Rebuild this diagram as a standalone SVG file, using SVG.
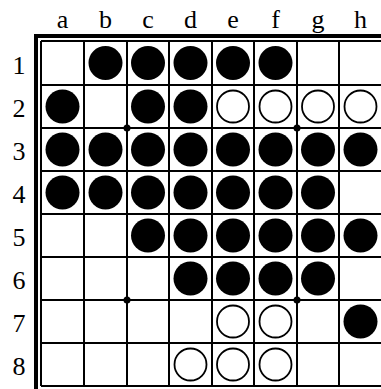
<svg xmlns="http://www.w3.org/2000/svg" width="381" height="389" viewBox="0 0 381 389">
<style>
.lbl{font-family:"Liberation Serif","Times New Roman",serif;font-size:26px;fill:#000;text-anchor:middle}
.g{stroke:#000;stroke-width:2;fill:none}
.b{fill:#000}
.w{fill:#fff;stroke:#000;stroke-width:1.8}
</style>
<rect width="381" height="389" fill="#fff"/>
<g id="col-labels">
<text class="lbl" x="62.5" y="28">a</text>
<text class="lbl" x="105.5" y="28">b</text>
<text class="lbl" x="148" y="28">c</text>
<text class="lbl" x="190.5" y="28">d</text>
<text class="lbl" x="233" y="28">e</text>
<text class="lbl" x="275.5" y="28">f</text>
<text class="lbl" x="318" y="28">g</text>
<text class="lbl" x="360.5" y="28">h</text>
</g>
<g id="row-labels">
<text class="lbl" x="19" y="74">1</text>
<text class="lbl" x="19" y="117">2</text>
<text class="lbl" x="19" y="160">3</text>
<text class="lbl" x="19" y="203">4</text>
<text class="lbl" x="19" y="246">5</text>
<text class="lbl" x="19" y="289">6</text>
<text class="lbl" x="19" y="332">7</text>
<text class="lbl" x="19" y="375">8</text>
</g>
<g id="frame">
<rect x="34" y="34" width="350" height="4" class="b"/>
<rect x="34" y="34" width="4" height="360" class="b"/>
</g>
<g id="grid" class="g">
<path d="M41 41V386M84 41V386M127 41V386M169 41V386M212 41V386M254 41V386M297 41V386M339 41V386M382 41V386"/>
<path d="M41 41H382M41 85H382M41 128H382M41 171H382M41 214H382M41 257H382M41 300H382M41 343H382M41 386H382"/>
</g>
<g id="stars" class="b">
<circle cx="127" cy="128" r="3.5"/>
<circle cx="297" cy="128" r="3.5"/>
<circle cx="127" cy="300" r="3.5"/>
<circle cx="297" cy="300" r="3.5"/>
</g>
<g id="black-discs" class="b">
<circle cx="105.5" cy="63" r="17"/><circle cx="148" cy="63" r="17"/><circle cx="190.5" cy="63" r="17"/><circle cx="233" cy="63" r="17"/><circle cx="275.5" cy="63" r="17"/>
<circle cx="62.5" cy="106.5" r="17"/><circle cx="148" cy="106.5" r="17"/><circle cx="190.5" cy="106.5" r="17"/>
<circle cx="62.5" cy="149.5" r="17"/><circle cx="105.5" cy="149.5" r="17"/><circle cx="148" cy="149.5" r="17"/><circle cx="190.5" cy="149.5" r="17"/><circle cx="233" cy="149.5" r="17"/><circle cx="275.5" cy="149.5" r="17"/><circle cx="318" cy="149.5" r="17"/><circle cx="360.5" cy="149.5" r="17"/>
<circle cx="62.5" cy="192.5" r="17"/><circle cx="105.5" cy="192.5" r="17"/><circle cx="148" cy="192.5" r="17"/><circle cx="190.5" cy="192.5" r="17"/><circle cx="233" cy="192.5" r="17"/><circle cx="275.5" cy="192.5" r="17"/><circle cx="318" cy="192.5" r="17"/>
<circle cx="148" cy="235.5" r="17"/><circle cx="190.5" cy="235.5" r="17"/><circle cx="233" cy="235.5" r="17"/><circle cx="275.5" cy="235.5" r="17"/><circle cx="318" cy="235.5" r="17"/><circle cx="360.5" cy="235.5" r="17"/>
<circle cx="190.5" cy="278.5" r="17"/><circle cx="233" cy="278.5" r="17"/><circle cx="275.5" cy="278.5" r="17"/><circle cx="318" cy="278.5" r="17"/>
<circle cx="360.5" cy="321.5" r="17"/>
</g>
<g id="white-discs" class="w">
<circle cx="233" cy="106.5" r="16"/><circle cx="275.5" cy="106.5" r="16"/><circle cx="318" cy="106.5" r="16"/><circle cx="360.5" cy="106.5" r="16"/>
<circle cx="233" cy="321.5" r="16"/><circle cx="275.5" cy="321.5" r="16"/>
<circle cx="190.5" cy="364.5" r="16"/><circle cx="233" cy="364.5" r="16"/><circle cx="275.5" cy="364.5" r="16"/>
</g>
</svg>
